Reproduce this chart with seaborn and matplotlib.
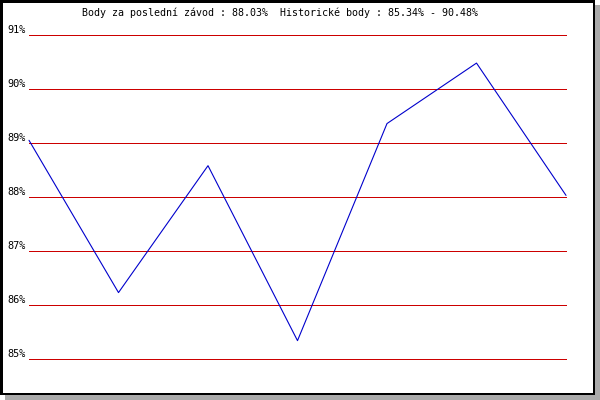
import matplotlib
matplotlib.use("Agg")
import matplotlib.pyplot as plt
import seaborn as sns
import pandas as pd
from matplotlib.patches import Rectangle

# values (percent)
races = [1, 2, 3, 4, 5, 6, 7]
points = [89.05, 86.23, 88.58, 85.34, 89.36, 90.48, 88.03]
y_ticks = [85, 86, 87, 88, 89, 90, 91]
y_labels = ["85%", "86%", "87%", "88%", "89%", "90%", "91%"]
title = "Body za poslední závod : 88.03%  Historické body : 85.34% - 90.48%"

sns.set_style("white")
plt.rcParams['font.family'] = ['DejaVu Sans Mono', 'DejaVu Sans']
plt.rcParams['text.color'] = 'black'
plt.rcParams['ytick.color'] = 'black'

W, H = 600, 400
fig = plt.figure(figsize=(6, 4), dpi=100)
fig.patch.set_facecolor("white")

# frame with drop shadow, drawn below the axes
fig.patches.append(Rectangle((5 / W, 0), 595 / W, 395 / H, transform=fig.transFigure,
                             facecolor="#aaaaaa", edgecolor="none", zorder=-10))
fig.patches.append(Rectangle((0, 5 / H), 595 / W, 395 / H, transform=fig.transFigure,
                             facecolor="black", edgecolor="none", zorder=-9))
fig.patches.append(Rectangle((2.5 / W, 7.5 / H), 590 / W, 390 / H, transform=fig.transFigure,
                             facecolor="white", edgecolor="none", zorder=-8))

ax = fig.add_axes([29 / W, (H - 359) / H, 537 / W, 324 / H])
ax.set_facecolor("none")

df = pd.DataFrame({"race": races, "points": points})
for t in y_ticks:
    ax.axhline(t, color="#cc0000", linewidth=0.5, zorder=1, clip_on=False,
               antialiased=False)
sns.lineplot(data=df, x="race", y="points", ax=ax, color="#0000cc", linewidth=0.8,
             zorder=2, clip_on=False)

ax.set_xlim(races[0], races[-1])
ax.set_ylim(85, 91)
ax.set_xticks([])
ax.set_yticks(y_ticks)
ax.set_yticklabels(y_labels, fontsize=7.4, color="black")
for lbl in ax.get_yticklabels():
    lbl.set_verticalalignment("bottom")
ax.tick_params(axis="y", length=0, pad=2)
ax.set_xlabel("")
ax.set_ylabel("")
for s in ax.spines.values():
    s.set_visible(False)

fig.text(280 / W, (H - 13) / H, title, ha="center", va="center", fontsize=7.2,
         color="black")

fig.savefig("out.png", dpi=100)
